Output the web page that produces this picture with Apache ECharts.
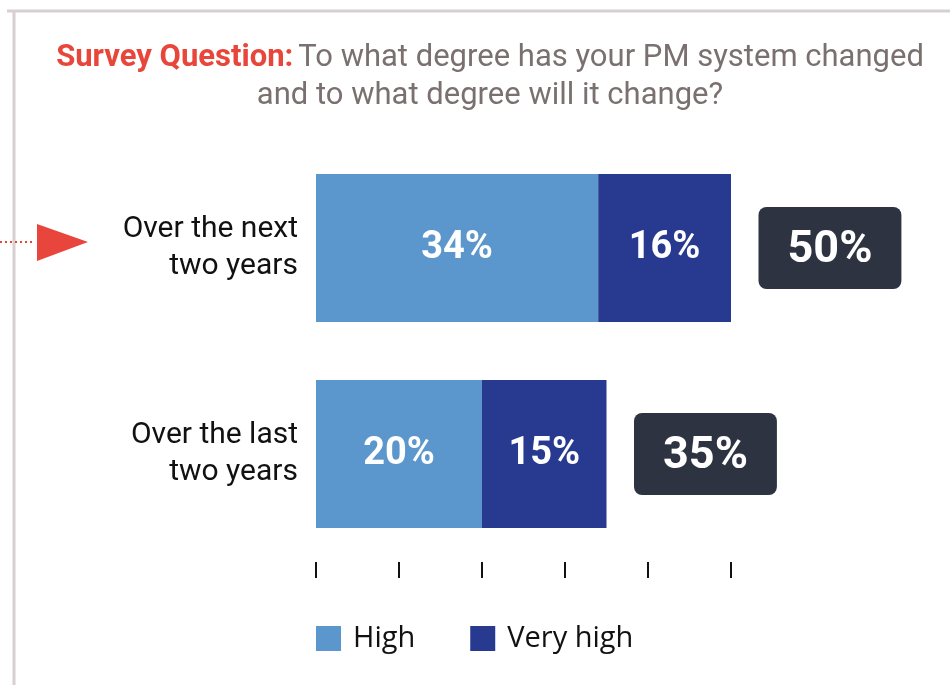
<!DOCTYPE html>
<html>
<head>
<meta charset="utf-8">
<script src="https://cdn.jsdelivr.net/npm/echarts@6/dist/echarts.min.js"></script>
<style>
html,body{margin:0;padding:0;background:#fff;}
#chart{width:950px;height:685px;}
</style>
</head>
<body>
<div id="chart"></div>
<script>
// Data
var categories = ['Over the next\ntwo years', 'Over the last\ntwo years'];
var seriesNames = ['High', 'Very high'];
var highValues = [34, 20];
var veryHighValues = [16, 15];
var totalValues = [50, 35];
var xTicks = [0, 10, 20, 30, 40, 50];

var FONT = 'Roboto, "Noto Sans", sans-serif';
var chart = echarts.init(document.getElementById('chart'));

var totalData = totalValues.map(function (v, i) { return [v, categories[i]]; });

var option = {
  backgroundColor: '#ffffff',
  animation: false,
  title: {
    text: '{r|Survey Question:} {g|To what degree has your PM system changed}\n{g|and to what degree will it change?}',
    left: 485,
    top: 34,
    textAlign: 'center',
    textStyle: {
      fontWeight: 'normal',
      rich: {
        r: { fontFamily: FONT, fontSize: 31, fontWeight: 'bold', color: '#e8463a', lineHeight: 38 },
        g: { fontFamily: FONT, fontSize: 31, fontWeight: 'normal', color: '#7b7070', lineHeight: 38 }
      }
    }
  },
  legend: {
    data: seriesNames,
    left: 311,
    top: 619,
    icon: 'rect',
    itemWidth: 25,
    itemHeight: 25,
    itemGap: 55,
    textStyle: { fontFamily: '"Open Sans", Roboto, sans-serif', fontSize: 29, color: '#111', padding: [0, 0, 0, 7] }
  },
  grid: { left: 316, right: 219, top: 145, height: 412, containLabel: false },
  xAxis: {
    type: 'value',
    min: xTicks[0],
    max: xTicks[xTicks.length - 1],
    interval: 10,
    offset: 5,
    axisLine: { show: false },
    axisTick: { show: true, length: 16, lineStyle: { color: '#111', width: 2 } },
    axisLabel: { show: false },
    splitLine: { show: false }
  },
  yAxis: {
    type: 'category',
    data: categories,
    inverse: true,
    axisLine: { show: false },
    axisTick: { show: false },
    axisLabel: { fontFamily: FONT, fontSize: 30, color: '#111', lineHeight: 37, margin: 18, align: 'right' }
  },
  series: [
    {
      name: seriesNames[0], type: 'bar', stack: 'total', data: highValues, barWidth: 148,
      itemStyle: { color: '#5b96cd' },
      label: { show: true, position: 'inside', formatter: '{c}%', color: '#fff', fontFamily: FONT, fontSize: 38, fontWeight: 'bold' }
    },
    {
      name: seriesNames[1], type: 'bar', stack: 'total', data: veryHighValues, barWidth: 148,
      itemStyle: { color: '#283a8f' },
      label: { show: true, position: 'inside', formatter: '{c}%', color: '#fff', fontFamily: FONT, fontSize: 38, fontWeight: 'bold' }
    },
    {
      name: 'Total', type: 'scatter', data: totalData, symbolSize: 1,
      itemStyle: { color: 'rgba(0,0,0,0)', opacity: 1 },
      label: {
        show: true, position: 'right', distance: 27, opacity: 1,
        formatter: function (p) { return '{v|' + p.value[0] + '%}'; },
        backgroundColor: '#2d3340', borderRadius: 8, padding: [17, 29, 17, 29],
        rich: {
          v: { color: '#fff', fontFamily: FONT, fontSize: 45, fontWeight: 'bold', lineHeight: 48, padding: [6, 0, 0, 0] }
        }
      }
    }
  ],
  graphic: [
    { type: 'line', shape: { x1: 7, y1: 11, x2: 950, y2: 11 }, style: { stroke: '#d8d0d0', lineWidth: 3 } },
    { type: 'line', shape: { x1: 14, y1: 11, x2: 14, y2: 685 }, style: { stroke: '#d8d0d0', lineWidth: 3 } },
    { type: 'line', shape: { x1: 0, y1: 242, x2: 35, y2: 242 }, style: { stroke: '#e8453c', lineWidth: 2, lineDash: [2, 3] } },
    { type: 'polygon', shape: { points: [[37, 224], [88, 242], [37, 261]] }, style: { fill: '#e8453c' } }
  ]
};
chart.setOption(option);
</script>
</body>
</html>
